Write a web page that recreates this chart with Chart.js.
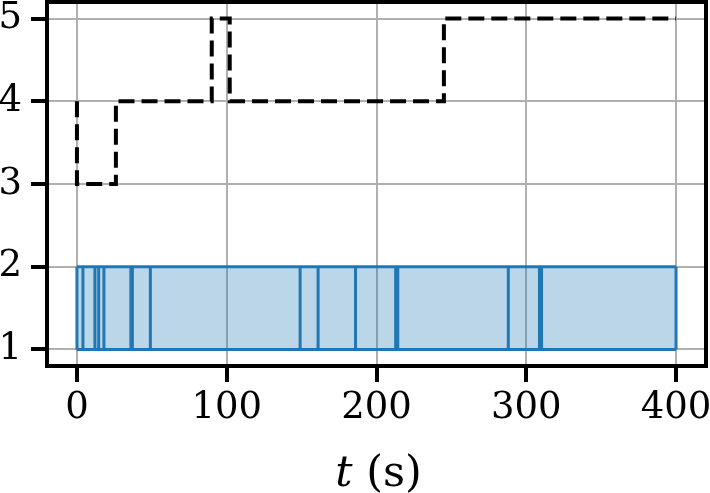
<!DOCTYPE html>
<html>
<head>
<meta charset="utf-8">
<script src="https://cdn.jsdelivr.net/npm/chart.js@4/dist/chart.umd.min.js"></script>
<style>
  html, body { margin: 0; padding: 0; background: #fff; }
  #wrap { width: 710px; height: 493px; }
</style>
</head>
<body>
<div id="wrap"><canvas id="c" width="710" height="493"></canvas></div>
<script>
// ---- data ----
const stepTimes  = [0, 0, 26, 90, 102, 245, 400];   // dashed step series: change times (s)
const stepLevels = [4, 3, 4, 5, 4, 5, 5];           // dashed step series: levels
const eventTimes = [0, 4, 12, 14.5, 18, 36, 37, 49, 149, 161, 186, 212.8, 214.2, 288, 308.8, 310.2, 400]; // vertical marks in band
const bandLow  = 1;
const bandHigh = 2;
const bandStart = 0;
const bandEnd = 400;
const xTicks = [0, 100, 200, 300, 400];
const yTicks = [1, 2, 3, 4, 5];
const xLabel = ['t', ' (s)'];

// ---- build datasets ----
const stepPoints = stepTimes.map((t, i) => ({x: t, y: stepLevels[i]}));
const upperPts = [{x: bandStart, y: bandHigh}, {x: bandEnd, y: bandHigh}];
const lowerPts = [{x: bandStart, y: bandLow}, {x: bandEnd, y: bandLow}];
const vertPts = [];
eventTimes.forEach(t => { vertPts.push({x: t, y: bandLow}, {x: t, y: bandHigh}, {x: t, y: null}); });

const BLUE = '#1f77b4';
const FONT = "'DejaVu Serif', serif";

const framePlugin = {
  id: 'frame',
  afterDraw(chart) {
    const {ctx, chartArea: a} = chart;
    ctx.save();
    ctx.strokeStyle = '#000';
    ctx.lineWidth = 4;
    ctx.strokeRect(a.left, a.top, a.right - a.left, a.bottom - a.top);
    // x-axis title with italic t
    ctx.fillStyle = '#000';
    ctx.textBaseline = 'alphabetic';
    const f1 = "italic 43px " + FONT, f2 = "43px " + FONT;
    ctx.font = f1; const w1 = ctx.measureText(xLabel[0]).width;
    ctx.font = f2; const w2 = ctx.measureText(xLabel[1]).width;
    const cx = (a.left + a.right) / 2 + 2;
    let x0 = cx - (w1 + w2) / 2;
    const by = 486;
    ctx.font = f1; ctx.fillText(xLabel[0], x0, by);
    ctx.font = f2; ctx.fillText(xLabel[1], x0 + w1, by);
    ctx.restore();
  }
};

new Chart(document.getElementById('c'), {
  type: 'line',
  data: {
    datasets: [
      {
        data: stepPoints,
        stepped: 'before',
        borderColor: '#000',
        borderWidth: 4,
        borderDash: [16, 7],
        pointRadius: 0,
        fill: false
      },
      {
        data: vertPts,
        borderColor: BLUE,
        borderWidth: 3,
        pointRadius: 0,
        spanGaps: false,
        fill: false
      },
      {
        data: upperPts,
        borderColor: BLUE,
        borderWidth: 3,
        pointRadius: 0,
        backgroundColor: 'rgba(31,119,180,0.3)',
        fill: '+1'
      },
      {
        data: lowerPts,
        borderColor: BLUE,
        borderWidth: 3,
        pointRadius: 0,
        fill: false
      }
    ]
  },
  options: {
    responsive: false,
    animation: false,
    events: [],
    layout: { padding: { top: 2, right: 4, left: 0, bottom: 0 } },
    plugins: { legend: { display: false }, tooltip: { enabled: false } },
    scales: {
      x: {
        type: 'linear',
        min: -20, max: 420,
        afterBuildTicks: s => { s.ticks = xTicks.map(v => ({value: v})); },
        afterFit: s => { s.height = 127; s.paddingLeft = 0; s.paddingRight = 0; },
        ticks: { color: '#000', font: { family: FONT, size: 37 }, padding: 4, maxRotation: 0 },
        grid: { color: '#b0b0b0', lineWidth: 2, tickLength: 16, tickColor: '#000', tickWidth: 4 },
        border: { display: true, color: '#000', width: 4 }
      },
      y: {
        type: 'linear',
        min: 0.8, max: 5.2,
        afterBuildTicks: s => { s.ticks = yTicks.map(v => ({value: v})); },
        afterFit: s => { s.width = 47; s.paddingTop = 0; s.paddingBottom = 0; },
        ticks: { color: '#000', font: { family: FONT, size: 37 }, padding: 9 },
        grid: { color: '#b0b0b0', lineWidth: 2, tickLength: 16, tickColor: '#000', tickWidth: 4 },
        border: { display: true, color: '#000', width: 4 }
      }
    }
  },
  plugins: [framePlugin]
});
</script>
</body>
</html>
